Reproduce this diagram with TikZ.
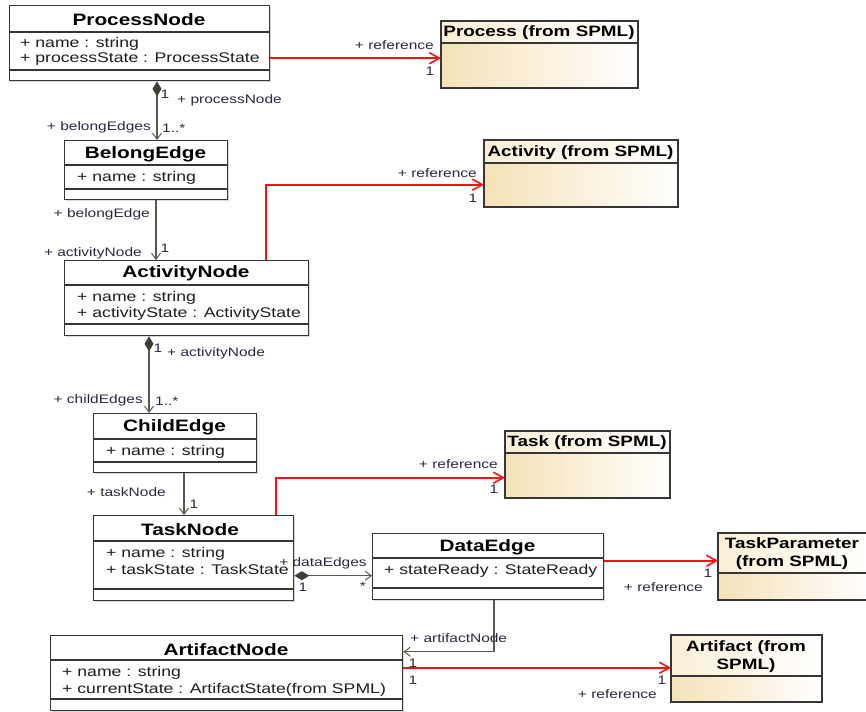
\documentclass[tikz,border=0pt]{standalone}
\usepackage{fontspec}
\setmainfont{Liberation Sans}[FakeStretch=1.26]
\usetikzlibrary{arrows.meta,shadows}
\definecolor{boxline}{HTML}{363636}
\definecolor{assoc}{HTML}{5E574E}
\definecolor{refred}{HTML}{F01414}
\definecolor{lbl}{HTML}{2E2640}
\definecolor{attrc}{HTML}{1E1E1E}
\definecolor{spmlL}{HTML}{F5E2B8}
\definecolor{spmlT}{HTML}{FAEFD6}
\begin{document}
\begin{tikzpicture}[x=1pt,y=-1pt,
  cls/.style={rectangle, draw=boxline, line width=1.4pt, fill=white, inner sep=0pt, anchor=north west,
    drop shadow={shadow xshift=1.5pt,shadow yshift=-1.5pt,opacity=0.3,fill=gray}},
  spml/.style={rectangle, draw=boxline, line width=1.4pt, inner sep=0pt, anchor=north west,
    left color=spmlL, right color=white,
    drop shadow={shadow xshift=1.5pt,shadow yshift=-1.5pt,opacity=0.3,fill=gray}},
  sepl/.style={draw=boxline, line width=1.1pt},
  ctitle/.style={inner sep=0pt, yshift=-1.2pt, font=\fontsize{16.5}{19}\selectfont\bfseries, text=black},
  stitle/.style={inner sep=0pt, yshift=-1pt, font=\fontsize{15}{18}\selectfont\bfseries, text=black, align=center},
  attr/.style={inner sep=0pt, yshift=-1.5pt, anchor=west, font=\fontsize{14}{16}\selectfont, text=attrc},
  lab/.style={inner sep=0pt, yshift=-1.2pt, font=\fontsize{12.3}{14}\selectfont, text=lbl},
  refarr/.style={draw=refred, line width=1.8pt, -{Straight Barb[length=10pt,width=11pt,line width=1.6pt]}},
  navarr/.style={draw=assoc, line width=1.1pt, -{Straight Barb[length=6pt,width=9pt,line width=1pt]}},
  comp/.style={draw=assoc, line width=1.1pt, {Diamond[length=15pt,width=9pt,fill=assoc!70!black,color=assoc!70!black]}-{Straight Barb[length=6pt,width=9pt,line width=1pt]}}
]
\useasboundingbox (0,0) rectangle (866,711);

% ---------- ProcessNode ----------
\node[cls, minimum width=260pt, minimum height=75pt] (pn) at (9,5) {};
\draw[sepl] (9,32) -- (269,32);
\draw[sepl] (9,70) -- (269,70);
\node[ctitle] (pnT) at (139,18) {ProcessNode};
\node[attr] (pnA1) at (20,42) {+ name : string};
\node[attr] (pnA2) at (20,58) {+ processState : ProcessState};

% ---------- BelongEdge ----------
\node[cls, minimum width=163pt, minimum height=59pt] (be) at (64,140) {};
\draw[sepl] (64,165) -- (227,165);
\draw[sepl] (64,189) -- (227,189);
\node[ctitle] (beT) at (145.5,153) {BelongEdge};
\node[attr] (beA1) at (77,176) {+ name : string};

% ---------- ActivityNode ----------
\node[cls, minimum width=244pt, minimum height=75pt] (an) at (64,260) {};
\draw[sepl] (64,285) -- (308,285);
\draw[sepl] (64,324) -- (308,324);
\node[ctitle] (anT) at (186,272) {ActivityNode};
\node[attr] (anA1) at (77,296) {+ name : string};
\node[attr] (anA2) at (77,312) {+ activityState : ActivityState};

% ---------- ChildEdge ----------
\node[cls, minimum width=163pt, minimum height=59pt] (ce) at (93,413) {};
\draw[sepl] (93,439) -- (256,439);
\draw[sepl] (93,462) -- (256,462);
\node[ctitle] (ceT) at (174.5,426) {ChildEdge};
\node[attr] (ceA1) at (106,450) {+ name : string};

% ---------- TaskNode ----------
\node[cls, minimum width=200pt, minimum height=85pt] (tn) at (93,515) {};
\draw[sepl] (93,541) -- (293,541);
\draw[sepl] (93,589) -- (293,589);
\node[ctitle] (tnT) at (190,528) {TaskNode};
\node[attr] (tnA1) at (106,552) {+ name : string};
\node[attr] (tnA2) at (106,568) {+ taskState : TaskState};

% ---------- DataEdge ----------
\node[cls, minimum width=231pt, minimum height=66pt] (de) at (372,533) {};
\draw[sepl] (372,558) -- (603,558);
\draw[sepl] (372,588) -- (603,588);
\node[ctitle] (deT) at (487.5,546) {DataEdge};
\node[attr] (deA1) at (384,569) {+ stateReady : StateReady};

% ---------- ArtifactNode ----------
\node[cls, minimum width=352pt, minimum height=75pt] (artn) at (50,635) {};
\draw[sepl] (50,660) -- (402,660);
\draw[sepl] (50,699) -- (402,699);
\node[ctitle] (artnT) at (226,648) {ArtifactNode};
\node[attr] (artnA1) at (62,671) {+ name : string};
\node[attr] (artnA2) at (62,688) {+ currentState : ArtifactState(from SPML)};

% ---------- SPML classes ----------
\node[spml, minimum width=196pt, minimum height=66pt] (proc) at (441,21) {};
\fill[left color=spmlT, right color=white] (441.7,21.7) rectangle (636.3,43);
\draw[sepl] (441,43) -- (637,43);
\draw[draw=boxline, line width=1.4pt] (proc.north west) rectangle (proc.south east);
\node[stitle] (procT) at (539,32) {Process (from SPML)};

\node[spml, minimum width=193pt, minimum height=66pt] (act) at (484,140) {};
\fill[left color=spmlT, right color=white] (484.7,140.7) rectangle (676.3,163);
\draw[sepl] (484,163) -- (677,163);
\draw[draw=boxline, line width=1.4pt] (act.north west) rectangle (act.south east);
\node[stitle] (actT) at (580.5,152) {Activity (from SPML)};

\node[spml, minimum width=164pt, minimum height=66pt] (task) at (505,431) {};
\fill[left color=spmlT, right color=white] (505.7,431.7) rectangle (668.3,453);
\draw[sepl] (505,453) -- (669,453);
\draw[draw=boxline, line width=1.4pt] (task.north west) rectangle (task.south east);
\node[stitle] (taskT) at (587,442) {Task (from SPML)};

\node[spml, minimum width=152pt, minimum height=66pt] (tp) at (718,533) {};
\fill[left color=spmlT, right color=white] (718.7,533.7) rectangle (869.3,573);
\draw[sepl] (718,573) -- (870,573);
\draw[draw=boxline, line width=1.4pt] (tp.north west) rectangle (tp.south east);
\node[stitle] (tpT) at (792,553) {TaskParameter\\(from SPML)};

\node[spml, minimum width=150pt, minimum height=66pt] (art) at (671,635) {};
\fill[left color=spmlT, right color=white] (671.7,635.7) rectangle (820.3,676);
\draw[sepl] (671,676) -- (821,676);
\draw[draw=boxline, line width=1.4pt] (art.north west) rectangle (art.south east);
\node[stitle] (artT) at (746,655.5) {Artifact (from\\SPML)};

% ---------- connectors ----------
% ProcessNode -> Process
\draw[refarr] ([yshift=-15pt]pn.east) -- ([yshift=-15pt]pn.east -| proc.west);
\node[lab, anchor=east] (l1) at (434,44) {+ reference};
\node[lab] (l2) at (430,70) {1};

% ProcessNode <>-> BelongEdge
\draw[comp] ([xshift=148pt]pn.south west) -- ([xshift=93pt]be.north west);
\node[lab] (l3) at (165,93) {1};
\node[lab, anchor=west] (l4) at (177,99) {+ processNode};
\node[lab, anchor=east] (l5) at (151,126) {+ belongEdges};
\node[lab, anchor=west] (l6) at (162,127) {1..*};

% BelongEdge -> ActivityNode
\draw[navarr] ([xshift=92pt]be.south west) -- ([xshift=92pt]an.north west);
\node[lab, anchor=east] (l7) at (150,213) {+ belongEdge};
\node[lab, anchor=east] (l8) at (142,252) {+ activityNode};
\node[lab] (l9) at (165,247) {1};

% ActivityNode -> Activity
\draw[refarr] ([xshift=202pt]an.north west) |- ([yshift=-11pt]act.west);
\node[lab, anchor=east] (l10) at (477,172) {+ reference};
\node[lab] (l11) at (473,197) {1};

% ActivityNode <>-> ChildEdge
\draw[comp] ([xshift=85pt]an.south west) -- ([xshift=56pt]ce.north west);
\node[lab] (l12) at (158,347) {1};
\node[lab, anchor=west] (l13) at (167,352) {+ activityNode};
\node[lab, anchor=east] (l14) at (143,399) {+ childEdges};
\node[lab, anchor=west] (l15) at (155,400) {1..*};

% ChildEdge -> TaskNode
\draw[navarr] ([xshift=91pt]ce.south west) -- ([xshift=91pt]tn.north west);
\node[lab, anchor=east] (l16) at (166,491) {+ taskNode};
\node[lab] (l17) at (194,503) {1};

% TaskNode -> Task
\draw[refarr] ([xshift=183pt]tn.north west) |- ([yshift=-13pt]task.west);
\node[lab, anchor=east] (l18) at (498,463) {+ reference};
\node[lab] (l19) at (494,488) {1};

% TaskNode <>-> DataEdge
\draw[comp] ([yshift=-17.5pt]tn.east) -- ([yshift=-17.5pt]tn.east -| de.west);
\node[lab] (l20) at (323,562) {+ dataEdges};
\node[lab] (l21) at (303,586) {1};
\node[lab] (l22) at (363,585) {*};

% DataEdge -> TaskParameter
\draw[refarr] ([yshift=6pt]de.east) -- ([yshift=6pt]de.east -| tp.west);
\node[lab] (l23) at (708,572) {1};
\node[lab, anchor=east] (l24) at (703,586) {+ reference};

% DataEdge -> ArtifactNode
\draw[navarr] ([xshift=122pt]de.south west) |- ([yshift=21.5pt]artn.east);
\node[lab, anchor=west] (l25) at (410,637) {+ artifactNode};
\node[lab] (l26) at (413,662) {1};

% ArtifactNode -> Artifact
\draw[refarr] ([yshift=5.5pt]artn.east) -- ([yshift=5.5pt]artn.east -| art.west);
\node[lab] (l27) at (413,679) {1};
\node[lab] (l28) at (662,679) {1};
\node[lab, anchor=east] (l29) at (657,693) {+ reference};
\end{tikzpicture}
\end{document}
